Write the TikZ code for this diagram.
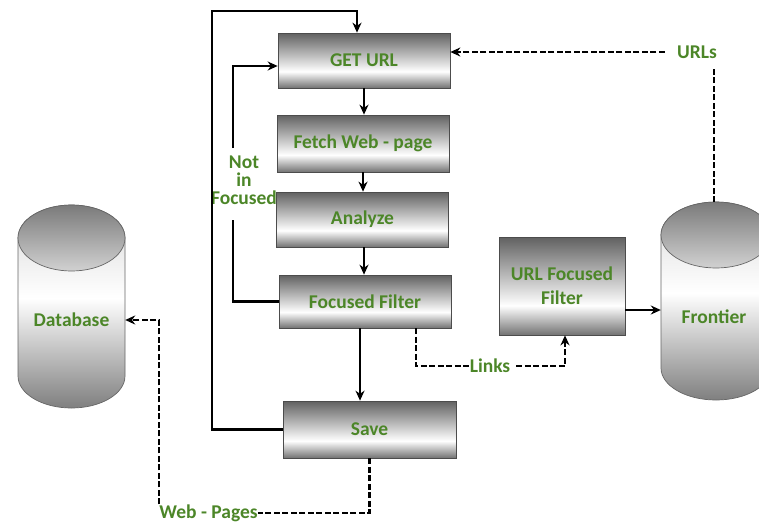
\documentclass[tikz,border=0pt]{standalone}
\usepackage{fontspec}
\setmainfont{Carlito}
\usetikzlibrary{arrows.meta}
\definecolor{lblgreen}{RGB}{76,134,40}
\pgfdeclareverticalshading{boxshade}{100bp}{color(0bp)=(black!55); color(25bp)=(black!55); color(40bp)=(white); color(75bp)=(black!62); color(100bp)=(black!62)}
\pgfdeclareverticalshading{cylbody}{100bp}{color(0bp)=(black!50); color(25bp)=(black!50); color(52bp)=(white); color(75bp)=(black!15); color(100bp)=(black!15)}

\begin{document}
\begin{tikzpicture}[x=1pt,y=1pt,
  every node/.style={text=lblgreen, font=\fontsize{19.5}{18}\selectfont\bfseries, align=center},
  procbox/.style={draw=black!70, line width=0.7pt, shading=boxshade, minimum width=172pt, minimum height=55pt, inner sep=0pt},
  flowlabel/.style={inner sep=0pt},
  flow/.style={line width=2.4pt, -{Stealth[length=10pt,width=9pt]}},
  linkflow/.style={line width=2.4pt, dash pattern=on 6pt off 2.5pt, -{Stealth[length=10pt,width=9pt]}}]
\useasboundingbox (0,0) rectangle (759,-522);
\clip (0,0) rectangle (759,-522);
%----------------------------------------------------------
	% Cylinders
	%------------------------------------------------------
	\shade[shading=cylbody, draw=black!60, line width=0.7pt] (18,-238) -- (18,-376) arc[start angle=180, end angle=360, x radius=53.5pt, y radius=32pt] -- (125,-238) arc[start angle=0, end angle=180, x radius=53.5pt, y radius=33pt] -- cycle;
	\shade[top color=black!52, bottom color=black!18, draw=black!60, line width=0.7pt] (71.5,-238) ellipse [x radius=53.5pt, y radius=33pt];
	
	\shade[shading=cylbody, draw=black!60, line width=0.7pt] (661,-235) -- (661,-368) arc[start angle=180, end angle=360, x radius=55pt, y radius=32pt] -- (771,-235) arc[start angle=0, end angle=180, x radius=55pt, y radius=33pt] -- cycle;
	\shade[top color=black!52, bottom color=black!18, draw=black!60, line width=0.7pt] (716,-235) ellipse [x radius=55pt, y radius=33pt];
	
	\node[minimum width=107pt] (db) at (71.5,-320) {Database};
	\node[minimum width=106pt] (fr) at (714,-317) {Frontier};
	
	% Boxes
	%------------------------------------------------------
	\node[procbox] (geturl) at (364,-60.5) {GET URL};
	\node[procbox, minimum height=57pt] (fetch) at (363,-143.5) {Fetch Web - page};
	\node[procbox] (analyze) at (362.5,-219.5) {Analyze};
	\node[procbox, minimum height=53pt] (ffilter) at (365,-301.5) {Focused Filter};
	\node[procbox, minimum width=173pt, minimum height=57pt] (save) at (369.5,-429.5) {Save};
	\node[procbox, minimum width=126pt, minimum height=98pt] (urlfilter) at (562,-286) {URL Focused\\[6pt]Filter};
	
	% Labels
	%------------------------------------------------------
	\node[flowlabel] (notin) at (244,-180) {Not\\in\\Focused};
	\node[flowlabel] (links) at (490,-366) {Links};
	\node[flowlabel] (urls) at (697,-52) {URLs};
	\node[flowlabel] (webp) at (208.5,-513) {Web - Pages};
	
	\coordinate[] (looptop) at (212,-11);
	\coordinate[] (nifbot) at (233,-220);
	\coordinate[] (niftop) at (233,-148);
	\coordinate[] (frtop) at (714,-202);
	\coordinate[] (urlsfoot) at (714,-67);
	
	% Lines
	%------------------------------------------------------
	\draw[flow] (geturl.south) -- (geturl.south |- fetch.north);
	\draw[flow] (fetch.south) -- (fetch.south |- analyze.north);
	\draw[flow] ([xshift=1.5pt]analyze.south) -- ([xshift=1.5pt]analyze.south |- ffilter.north);
	\draw[flow] ([xshift=-5pt]ffilter.south) -- ([xshift=-5pt]ffilter.south |- save.north);
	\draw[flow] (save.west) -| (looptop) -| ([xshift=-7pt]geturl.north);
	\draw[flow, -] (ffilter.west) -| (nifbot);
	\draw[flow] (niftop) |- ([yshift=-5.5pt]geturl.west);
	\draw[flow] ([yshift=-24pt]urlfilter.east) -- ([yshift=-24pt]urlfilter.east -| fr.west);
	
	% Dashed lines
	%------------------------------------------------------
	\draw[linkflow, -] ([xshift=51pt]ffilter.south) |- (links.west);
	\draw[linkflow] ([xshift=6pt]links.east) -| ([xshift=3pt]urlfilter.south);
	\draw[linkflow, -] (frtop) -- (urlsfoot);
	\draw[linkflow] ([xshift=-12pt]urls.west) -- (urls.west -| geturl.east);
	\draw[linkflow, -] (save.south) |- (webp.east);
	\draw[linkflow] (webp.north west) |- (db.east);
	
\end{tikzpicture}
\end{document}
